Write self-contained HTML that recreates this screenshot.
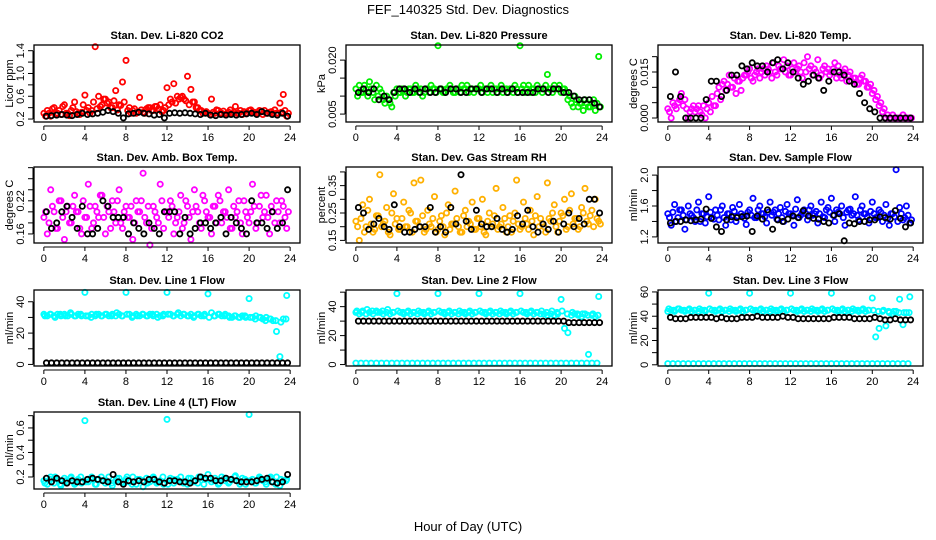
<!DOCTYPE html>
<html><head><meta charset="utf-8"><style>
body{margin:0;background:#fff;}
svg{display:block;font-family:"Liberation Sans",sans-serif;}
</style></head><body>
<svg id="chart" width="936" height="540" viewBox="0 0 936 540">
<rect width="936" height="540" fill="#fff"/>
<text x="468" y="14" text-anchor="middle" font-size="13">FEF_140325  Std. Dev. Diagnostics</text>
<text x="468" y="531" text-anchor="middle" font-size="13">Hour of Day (UTC)</text>
</svg>
<script>
const xTicks = [0,4,8,12,16,20,24];
const co2Red = [0.3,0.35,0.25,0.4,0.3,0.28,0.45,0.3,0.35,0.5,0.3,0.32,0.62,0.4,0.35,1.47,0.6,0.45,0.55,0.5,0.4,0.7,0.45,0.85,1.23,0.4,0.35,0.3,0.58,0.32,0.38,0.4,0.35,0.42,0.45,0.35,0.75,0.55,0.82,0.6,0.58,0.55,0.95,0.72,0.5,0.4,0.35,0.32,0.3,0.55,0.3,0.35,0.3,0.28,0.32,0.3,0.42,0.3,0.28,0.3,0.35,0.32,0.3,0.35,0.28,0.3,0.32,0.3,0.3,0.48,0.63,0.25];
const co2Red2 = [0.25,0.3,0.38,0.28,0.35,0.42,0.3,0.26,0.4,0.33,0.28,0.45,0.35,0.3,0.5,0.38,0.42,0.55,0.48,0.4,0.52,0.36,0.44,0.5,0.35,0.3,0.38,0.32,0.36,0.3,0.4,0.35,0.42,0.38,0.33,0.4,0.45,0.5,0.48,0.55,0.6,0.52,0.45,0.5,0.4,0.35,0.3,0.33,0.28,0.32,0.36,0.3,0.34,0.3,0.36,0.32,0.3,0.35,0.33,0.3,0.36,0.32,0.3,0.34,0.35,0.3,0.33,0.36,0.3,0.32,0.35,0.3];
const co2Black = [0.25,0.26,0.27,0.28,0.27,0.26,0.28,0.3,0.28,0.29,0.3,0.32,0.35,0.33,0.3,0.22,0.29,0.3,0.32,0.3,0.29,0.27,0.28,0.22,0.3,0.31,0.3,0.31,0.3,0.29,0.28,0.3,0.27,0.26,0.28,0.27,0.28,0.27,0.28,0.29,0.3,0.28,0.33,0.3,0.28,0.27,0.3,0.25];
const presGreen = [0.012,0.013,0.011,0.012,0.014,0.011,0.013,0.012,0.009,0.01,0.008,0.011,0.012,0.011,0.012,0.011,0.012,0.011,0.012,0.012,0.011,0.012,0.013,0.012,0.024,0.012,0.011,0.012,0.012,0.011,0.012,0.013,0.012,0.011,0.012,0.012,0.012,0.011,0.012,0.012,0.011,0.012,0.012,0.011,0.012,0.012,0.011,0.012,0.024,0.013,0.012,0.011,0.012,0.013,0.012,0.012,0.016,0.012,0.013,0.012,0.011,0.012,0.009,0.008,0.01,0.007,0.008,0.009,0.007,0.008,0.006,0.021];
const presGreen2 = [0.01,0.011,0.013,0.01,0.012,0.009,0.01,0.011,0.008,0.009,0.007,0.01,0.011,0.012,0.01,0.012,0.011,0.013,0.011,0.01,0.012,0.011,0.012,0.011,0.012,0.011,0.012,0.013,0.011,0.012,0.011,0.012,0.013,0.012,0.011,0.012,0.013,0.012,0.011,0.013,0.012,0.011,0.013,0.012,0.011,0.012,0.013,0.011,0.012,0.011,0.013,0.012,0.011,0.012,0.011,0.013,0.012,0.011,0.012,0.013,0.012,0.011,0.01,0.007,0.009,0.008,0.006,0.008,0.007,0.009,0.008,0.007];
const presBlack = [0.011,0.012,0.011,0.012,0.009,0.010,0.009,0.011,0.012,0.012,0.011,0.012,0.011,0.012,0.011,0.011,0.012,0.011,0.012,0.012,0.011,0.011,0.012,0.012,0.011,0.012,0.012,0.011,0.012,0.011,0.012,0.011,0.011,0.011,0.011,0.012,0.012,0.011,0.012,0.012,0.011,0.011,0.010,0.009,0.009,0.009,0.008,0.007];
const tempMag = [0.003,0.0,0.004,0.005,0.008,0.006,0.0,0.003,0.002,0.004,0.001,0.0,0.005,0.007,0.004,0.01,0.011,0.009,0.014,0.01,0.008,0.012,0.013,0.014,0.016,0.012,0.015,0.013,0.016,0.017,0.015,0.018,0.014,0.016,0.019,0.017,0.014,0.018,0.016,0.015,0.018,0.02,0.017,0.016,0.019,0.014,0.017,0.016,0.015,0.018,0.017,0.013,0.016,0.014,0.012,0.013,0.011,0.014,0.012,0.01,0.008,0.006,0.004,0.002,0.0,0.0,0.001,0.0,0.0,0.001,0.0,0.0];
const tempMag2 = [0.002,0.005,0.003,0.006,0.004,0.003,0.002,0.004,0.003,0.002,0.004,0.003,0.002,0.004,0.008,0.006,0.012,0.011,0.01,0.013,0.012,0.009,0.014,0.015,0.013,0.014,0.016,0.015,0.014,0.016,0.013,0.015,0.017,0.016,0.015,0.014,0.016,0.015,0.017,0.013,0.015,0.016,0.014,0.015,0.013,0.016,0.015,0.014,0.016,0.013,0.014,0.015,0.012,0.015,0.013,0.011,0.013,0.012,0.01,0.011,0.009,0.007,0.005,0.003,0.001,0.0,0.0,0.0,0.0,0.0,0.0,0.0];
const tempBlack = [0.007,0.015,0.007,0.0,0.0,0.0,0.0,0.006,0.012,0.012,0.007,0.009,0.014,0.014,0.017,0.016,0.018,0.017,0.017,0.015,0.018,0.019,0.016,0.018,0.015,0.013,0.011,0.012,0.014,0.013,0.009,0.012,0.015,0.015,0.014,0.012,0.011,0.008,0.005,0.003,0.002,0.0,0.0,0.0,0.0,0.0,0.0,0.0];
const boxMag = [0.19,0.16,0.24,0.2,0.17,0.22,0.15,0.21,0.18,0.23,0.2,0.16,0.19,0.25,0.17,0.21,0.19,0.23,0.16,0.2,0.22,0.18,0.24,0.17,0.21,0.19,0.15,0.22,0.2,0.27,0.18,0.14,0.21,0.19,0.25,0.17,0.2,0.22,0.16,0.19,0.23,0.18,0.21,0.15,0.24,0.2,0.17,0.22,0.19,0.16,0.21,0.23,0.18,0.2,0.24,0.17,0.19,0.22,0.16,0.2,0.18,0.25,0.17,0.21,0.19,0.23,0.16,0.2,0.22,0.18,0.21,0.17];
const boxMag2 = [0.2,0.18,0.21,0.17,0.22,0.19,0.2,0.18,0.21,0.2,0.17,0.22,0.19,0.21,0.18,0.2,0.23,0.19,0.21,0.17,0.2,0.22,0.18,0.2,0.19,0.21,0.18,0.2,0.22,0.19,0.21,0.17,0.2,0.18,0.22,0.2,0.19,0.21,0.18,0.2,0.17,0.22,0.19,0.2,0.21,0.18,0.23,0.2,0.19,0.21,0.18,0.22,0.2,0.19,0.17,0.21,0.2,0.18,0.22,0.19,0.2,0.21,0.18,0.23,0.2,0.19,0.21,0.18,0.2,0.22,0.19,0.2];
const boxBlack = [0.2,0.17,0.18,0.2,0.21,0.19,0.17,0.21,0.16,0.16,0.17,0.22,0.21,0.19,0.19,0.19,0.16,0.18,0.17,0.16,0.18,0.17,0.16,0.2,0.2,0.2,0.16,0.19,0.16,0.17,0.18,0.18,0.17,0.18,0.19,0.16,0.19,0.18,0.17,0.16,0.22,0.18,0.18,0.17,0.2,0.17,0.18,0.24];
const rhOrange = [0.22,0.15,0.28,0.2,0.3,0.18,0.24,0.39,0.21,0.27,0.17,0.32,0.23,0.19,0.29,0.2,0.25,0.36,0.22,0.37,0.18,0.26,0.2,0.31,0.19,0.24,0.17,0.28,0.21,0.33,0.2,0.18,0.26,0.22,0.29,0.19,0.23,0.3,0.17,0.25,0.21,0.34,0.2,0.27,0.18,0.24,0.22,0.37,0.19,0.29,0.21,0.26,0.17,0.31,0.23,0.2,0.36,0.22,0.28,0.18,0.25,0.3,0.2,0.32,0.23,0.19,0.27,0.34,0.21,0.26,0.3,0.22];
const rhOrange2 = [0.2,0.23,0.18,0.26,0.21,0.19,0.24,0.2,0.22,0.18,0.25,0.21,0.19,0.23,0.2,0.26,0.18,0.22,0.2,0.24,0.19,0.21,0.23,0.18,0.22,0.2,0.25,0.19,0.21,0.23,0.18,0.24,0.2,0.21,0.19,0.23,0.2,0.18,0.22,0.2,0.24,0.19,0.21,0.23,0.2,0.18,0.25,0.21,0.2,0.23,0.19,0.22,0.24,0.2,0.21,0.18,0.23,0.25,0.2,0.22,0.24,0.19,0.26,0.21,0.23,0.2,0.25,0.22,0.24,0.2,0.23,0.21];
const rhBlack = [0.27,0.25,0.19,0.21,0.23,0.2,0.19,0.28,0.2,0.18,0.18,0.19,0.2,0.2,0.27,0.18,0.2,0.18,0.27,0.21,0.39,0.22,0.19,0.26,0.21,0.2,0.2,0.23,0.19,0.18,0.19,0.24,0.21,0.26,0.2,0.18,0.21,0.19,0.22,0.18,0.21,0.25,0.2,0.23,0.21,0.3,0.3,0.25];
const flowBlue = [1.5,1.35,1.62,1.45,1.55,1.3,1.6,1.48,1.4,1.65,1.5,1.38,1.72,1.45,1.55,1.42,1.6,1.35,1.5,1.58,1.4,1.62,1.47,1.36,1.55,1.7,1.45,1.6,1.5,1.38,1.65,1.52,1.43,1.58,1.4,1.62,1.5,1.35,1.68,1.48,1.55,1.42,1.6,1.5,1.38,1.65,1.45,1.58,1.7,1.4,1.52,1.6,1.35,1.55,1.48,1.72,1.42,1.6,1.5,1.38,1.65,1.45,1.55,1.4,1.62,1.35,1.5,2.07,1.58,1.42,1.6,1.38];
const flowBlue2 = [1.45,1.52,1.4,1.55,1.48,1.42,1.5,1.45,1.55,1.4,1.5,1.46,1.52,1.43,1.48,1.55,1.45,1.5,1.42,1.53,1.47,1.5,1.44,1.52,1.48,1.45,1.55,1.5,1.46,1.52,1.48,1.55,1.5,1.45,1.53,1.5,1.48,1.56,1.45,1.52,1.5,1.55,1.48,1.53,1.5,1.46,1.55,1.52,1.48,1.55,1.5,1.45,1.52,1.56,1.5,1.48,1.55,1.5,1.46,1.53,1.5,1.45,1.52,1.48,1.44,1.5,1.46,1.4,1.5,1.45,1.48,1.42];
const flowBlack = [1.38,1.4,1.4,1.42,1.41,1.42,1.43,1.56,1.44,1.33,1.27,1.42,1.46,1.45,1.46,1.47,1.27,1.47,1.43,1.55,1.3,1.42,1.4,1.43,1.47,1.45,1.54,1.47,1.44,1.43,1.4,1.38,1.48,1.5,1.15,1.38,1.37,1.4,1.4,1.42,1.42,1.46,1.45,1.43,1.54,1.44,1.33,1.38];
const l1Cyan = [32,31,32,31,32,31,32,31,32,31,32,31,46,31,32,31,32,31,32,31,32,31,32,31,46,32,31,32,31,32,31,32,31,32,31,32,46,32,31,32,31,32,31,32,31,32,31,32,45,33,31,32,31,32,31,30,31,30,31,30,42,30,31,30,29,30,29,28,21,5,29,44];
const l1Cyan2 = [31,32,30,32,31,33,31,32,31,30,32,31,32,31,33,31,32,30,31,32,31,32,30,31,32,31,33,32,31,30,32,31,30,31,32,31,30,31,30,31,30,29,30,28,29,28,27,29];
const l1Black = [1,1,1,1,1,1,1,1,1,1,1,1,1,1,1,1,1,1,1,1,1,1,1,1,1,1,1,1,1,1,1,1,1,1,1,1,1,1,1,1,1,1,1,1,1,1,1,1];
const l2Cyan = [36,35,37,35,36,35,37,36,35,36,35,36,49,36,35,36,35,36,35,36,35,36,35,36,49,36,35,36,35,36,35,36,35,36,35,36,49,36,35,36,35,36,35,36,35,36,35,36,49,36,35,36,35,36,35,35,34,35,34,35,45,25,22,34,35,34,33,35,7,34,33,47];
const l2Cyan2 = [37,36,38,37,36,37,38,36,37,36,37,36,37,36,37,36,37,36,37,36,37,36,37,36,37,36,37,36,37,36,37,36,37,36,37,36,37,36,37,36,37,35,36,35,35,34,35,34];
const l2Zero = [1,1,1,1,1,1,1,1,1,1,1,1,1,1,1,1,1,1,1,1,1,1,1,1,1,1,1,1,1,1,1,1,1,1,1,1,1,1,1,1,1,1,1,1,1,1,1,1];
const l2Black = [30,30,30,30,30,30,30,30,30,30,30,30,30,30,30,30,30,30,30,30,30,30,30,30,30,30,30,30,30,30,30,30,30,30,30,30,30,30,30,30,30,29,29,29,29,29,29,29];
const l3Cyan = [44,45,44,46,45,44,45,44,45,44,45,44,59,45,44,45,44,45,44,45,44,45,44,45,59,45,44,45,44,45,44,45,44,45,44,45,59,45,44,45,44,45,44,45,44,45,44,45,59,45,44,45,44,45,44,45,44,45,44,45,55,23,30,44,32,43,42,44,54,33,43,56];
const l3Cyan2 = [46,45,46,45,46,45,46,45,46,45,46,45,46,45,46,45,46,45,46,45,46,45,46,45,46,45,46,45,46,45,46,45,46,45,46,45,46,45,46,45,45,44,45,44,44,43,43,43];
const l3Zero = [1,1,1,1,1,1,1,1,1,1,1,1,1,1,1,1,1,1,1,1,1,1,1,1,1,1,1,1,1,1,1,1,1,1,1,1,1,1,1,1,1,1,1,1,1,1,1,1];
const l3Black = [39,38,38,38,39,39,39,39,39,38,39,38,38,38,39,39,39,40,39,39,39,39,40,39,39,38,38,38,38,38,38,38,39,39,39,39,38,38,38,38,39,38,37,37,38,37,37,37];
const l4Cyan = [0.17,0.14,0.2,0.15,0.18,0.13,0.19,0.16,0.2,0.14,0.18,0.15,0.66,0.16,0.2,0.14,0.18,0.17,0.15,0.2,0.13,0.17,0.19,0.15,0.18,0.16,0.2,0.14,0.18,0.12,0.19,0.16,0.2,0.15,0.17,0.14,0.67,0.19,0.15,0.18,0.2,0.16,0.14,0.19,0.17,0.15,0.2,0.18,0.22,0.16,0.19,0.14,0.2,0.17,0.15,0.18,0.21,0.16,0.19,0.14,0.71,0.18,0.15,0.2,0.17,0.14,0.19,0.16,0.2,0.13,0.17,0.18];
const l4Cyan2 = [0.15,0.18,0.2,0.14,0.17,0.19,0.15,0.2,0.16,0.18,0.14,0.2,0.17,0.15,0.19,0.16,0.2,0.14,0.18,0.17,0.15,0.19,0.16,0.2,0.14,0.18,0.17,0.15,0.19,0.16,0.2,0.14,0.18,0.17,0.15,0.19,0.16,0.2,0.14,0.18,0.17,0.15,0.19,0.16,0.2,0.14,0.18,0.17];
const l4Black = [0.19,0.16,0.19,0.17,0.15,0.17,0.16,0.16,0.18,0.19,0.18,0.17,0.16,0.22,0.16,0.14,0.17,0.16,0.17,0.16,0.18,0.18,0.16,0.15,0.17,0.17,0.16,0.16,0.15,0.17,0.2,0.19,0.19,0.17,0.17,0.19,0.18,0.17,0.16,0.16,0.16,0.17,0.18,0.19,0.16,0.15,0.16,0.22];

const NS = "http://www.w3.org/2000/svg";
const svg = document.getElementById('chart');
function mk(tag, attrs, parent){const e=document.createElementNS(NS,tag);for(const k in attrs)e.setAttribute(k,attrs[k]);(parent||svg).appendChild(e);return e;}

const cols=[{x:34,w:266},{x:346,w:266},{x:658,w:265}];
const rows=[{y:45,h:77},{y:167,h:76},{y:290,h:76},{y:412,h:77}];
const panels=[
 {slug:'co2',title:'Stan. Dev. Li-820 CO2',ylab:'Licor ppm',c:0,r:0,dom:[0.148,1.5],ticks:[0.2,0.4,0.6,0.8,1.0,1.2,1.4],labels:['0.2','','0.6','','1.0','','1.4'],series:[{v:co2Red,col:'#ff0000'},{v:co2Red2,col:'#ff0000',off:1/6},{v:co2Black,col:'#000'}]},
 {slug:'pressure',title:'Stan. Dev. Li-820 Pressure',ylab:'kPa',c:1,r:0,dom:[0.0028,0.0242],ticks:[0.005,0.010,0.015,0.020],labels:['0.005','','','0.020'],series:[{v:presGreen,col:'#00ee00'},{v:presGreen2,col:'#00ee00',off:1/6},{v:presBlack,col:'#000'}]},
 {slug:'temp',title:'Stan. Dev. Li-820 Temp.',ylab:'degrees C',c:2,r:0,dom:[-0.0013,0.0238],ticks:[0,0.005,0.010,0.015,0.020],labels:['0.000','','','0.015',''],series:[{v:tempMag,col:'#ff00ff'},{v:tempMag2,col:'#ff00ff',off:1/6},{v:tempBlack,col:'#000'}]},
 {slug:'box-temp',title:'Stan. Dev. Amb. Box Temp.',ylab:'degrees C',c:0,r:1,dom:[0.1436,0.2812],ticks:[0.16,0.18,0.20,0.22,0.24,0.26,0.28],labels:['0.16','','','0.22','','',''],series:[{v:boxMag,col:'#ff00ff'},{v:boxMag2,col:'#ff00ff',off:1/6},{v:boxBlack,col:'#000'}]},
 {slug:'rh',title:'Stan. Dev. Gas Stream RH',ylab:'percent',c:1,r:1,dom:[0.1405,0.418],ticks:[0.15,0.20,0.25,0.30,0.35,0.40],labels:['0.15','','0.25','','0.35',''],series:[{v:rhOrange,col:'#ffb000'},{v:rhOrange2,col:'#ffb000',off:1/6},{v:rhBlack,col:'#000'}]},
 {slug:'sample-flow',title:'Stan. Dev. Sample Flow',ylab:'ml/min',c:2,r:1,dom:[1.121,2.105],ticks:[1.2,1.4,1.6,1.8,2.0],labels:['1.2','','1.6','','2.0'],series:[{v:flowBlue,col:'#0000ff'},{v:flowBlue2,col:'#0000ff',off:1/6},{v:flowBlack,col:'#000'}]},
 {slug:'line1',title:'Stan. Dev. Line 1 Flow',ylab:'ml/min',c:0,r:2,dom:[-1,47.5],ticks:[0,10,20,30,40],labels:['0','','20','','40'],series:[{v:l1Cyan,col:'#00ffff'},{v:l1Cyan2,col:'#00ffff',off:0.1},{v:l1Black,col:'#000'}]},
 {slug:'line2',title:'Stan. Dev. Line 2 Flow',ylab:'ml/min',c:1,r:2,dom:[-1,51.5],ticks:[0,10,20,30,40,50],labels:['0','','20','','40',''],series:[{v:l2Cyan,col:'#00ffff'},{v:l2Cyan2,col:'#00ffff',off:0.1},{v:l2Zero,col:'#00ffff',off:0},{v:l2Black,col:'#000'}]},
 {slug:'line3',title:'Stan. Dev. Line 3 Flow',ylab:'ml/min',c:2,r:2,dom:[-1,61.6],ticks:[0,10,20,30,40,50,60],labels:['0','','20','','40','','60'],series:[{v:l3Cyan,col:'#00ffff'},{v:l3Cyan2,col:'#00ffff',off:0.1},{v:l3Zero,col:'#00ffff',off:0},{v:l3Black,col:'#000'}]},
 {slug:'line4',title:'Stan. Dev. Line 4 (LT) Flow',ylab:'ml/min',c:0,r:3,dom:[0.102,0.73],ticks:[0.2,0.3,0.4,0.5,0.6,0.7],labels:['0.2','','0.4','','0.6',''],series:[{v:l4Cyan,col:'#00ffff'},{v:l4Cyan2,col:'#00ffff',off:0.1},{v:l4Black,col:'#000'}]}
];

panels.forEach(p=>{
  const bx=cols[p.c].x,bw=cols[p.c].w,by=rows[p.r].y,bh=rows[p.r].h;
  const g=mk('g',{});
  
  
  const X=h=>bx+(h+0.96)/25.92*bw;
  const Y=v=>by+bh-(v-p.dom[0])/(p.dom[1]-p.dom[0])*bh;
  const t=mk('text',{x:bx+bw/2,y:by-6,'text-anchor':'middle','font-size':'11','font-weight':'bold'},g);
  t.textContent=p.title;
  
  
  p.series.forEach(s=>{
    const sg=mk('g',{},g);
    
    
    const n=s.v.length;
    const step=24/n;
    const off=(s.off!==undefined)?s.off:(n===48?0.25:0);
    s.v.forEach((v,i)=>{
      const h=i*step+off;
      const c=mk('circle',{cx:X(h).toFixed(1),cy:Y(v).toFixed(1),r:2.6,fill:'none',stroke:s.col,'stroke-width':1.8},sg);
      
      
    });
  });
  const box=mk('rect',{x:bx,y:by,width:bw,height:bh,fill:'none',stroke:'#000','stroke-width':1.3},g);
  
  
  const xa=mk('g',{},g);
  
  
  mk('line',{x1:X(0),x2:X(24),y1:by+bh+4,y2:by+bh+4,stroke:'#000'},xa);
  xTicks.forEach(tv=>{
    mk('line',{x1:X(tv),x2:X(tv),y1:by+bh+4,y2:by+bh+8,stroke:'#000'},xa);
    const tl=mk('text',{x:X(tv),y:by+bh+19,'text-anchor':'middle','font-size':'11'},xa);
    tl.textContent=tv;
    
    
  });
  const ya=mk('g',{},g);
  
  
  const yt=p.ticks;
  mk('line',{x1:bx-1,x2:bx-1,y1:Y(yt[0]),y2:Y(yt[yt.length-1]),stroke:'#000'},ya);
  yt.forEach((tv,i)=>{
    mk('line',{x1:bx-6,x2:bx-1,y1:Y(tv),y2:Y(tv),stroke:'#000'},ya);
    if(p.labels[i]){
      const tl=mk('text',{x:0,y:0,'text-anchor':'middle','font-size':'11',transform:`translate(${bx-10},${Y(tv)}) rotate(-90)`},ya);
      tl.textContent=p.labels[i];
      
      
    }
  });
  const yl=mk('text',{x:0,y:0,'text-anchor':'middle','font-size':'11',transform:`translate(${bx-21},${by+bh/2}) rotate(-90)`},g);
  yl.textContent=p.ylab;
  
  
});
</script>
</body></html>
